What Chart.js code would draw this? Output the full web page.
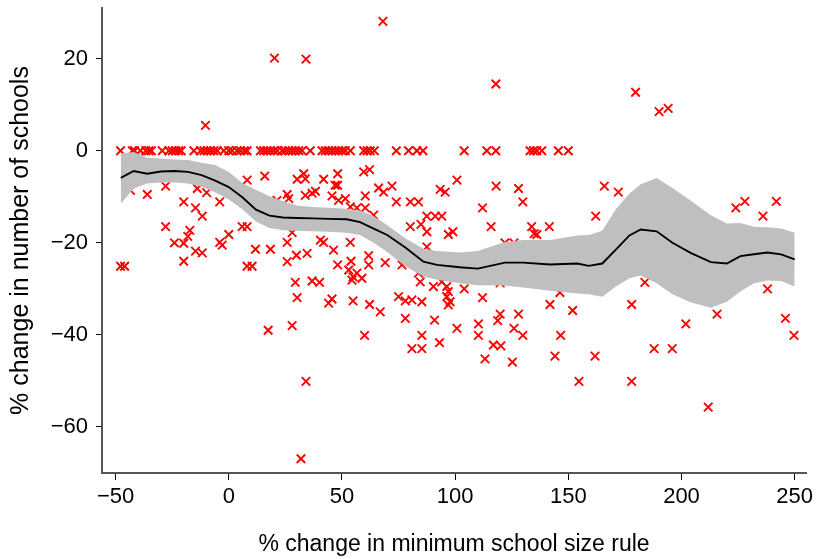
<!DOCTYPE html>
<html>
<head>
<meta charset="utf-8">
<script src="https://cdn.jsdelivr.net/npm/chart.js@4/dist/chart.umd.min.js"></script>
<style>html,body{margin:0;padding:0;background:#fff}</style>
</head>
<body>
<canvas id="chart" width="816" height="559"></canvas>
<script>
// schools that did not change (0 %)
const zeroX = [-47.8,-42.6,-41.6,-39,-36.7,-35.3,-34.2,-29.4,-26.5,-25,-23.5,-22.1,-21,-15.4,-12.5,-11,-9.5,-8.1,-6.6,-5.1,-2.2,0,1.5,3.7,5.2,6.9,8.1,
  14,15.4,16.9,18.4,19.9,21.4,23.6,25,26.5,28,29.4,30.9,32.4,36,41.2,42.7,44.1,45.6,47.1,48.5,50,51.5,53.7,59.6,61.1,62.5,64.3,74,79.4,83.1,85.8,
  104,114,118,133.1,134.6,136.1,138.3,145.6,150];

// every other observation: x = % change in rule, y = % change in schools
const ptX = [20.2,-10.3,34.1,68.1,118,179.7,190.1,194.1,
  8.1,15.9,21.3,-36,-27.9,-13.9,-9.8,-43.4,-19.9,-14.7,-11.7,-4,-27.9,-17.2,-18.1,-24,-19.9,-4,-2.9,0,5.9,8.1,-14.7,-11.7,11.8,18.4,-19.9,-47.8,-46,8.1,10.3,
  33.1,30.2,33.8,48.1,41.9,59.6,62.2,47,48.1,100.8,66.2,68.4,72.1,93.4,95.6,25.8,26.5,33.8,36.8,38.3,45.6,48.5,51.5,60.3,74,80.2,83.8,53.7,56.6,60.3,64,
  87.5,91.2,94.1,80.2,84.9,87.5,97,99,28,40.5,41.9,53.7,25.8,46.3,29.9,34.6,25.8,61.8,54,69.1,48.1,61.8,87.5,53,54.9,56.6,54.4,58.8,76.5,29.4,36.8,40.1,
  83.8,84.6,90.4,94.1,96.3,97,97.8,96.3,30.2,44.1,45.6,54.9,62.2,75,78,80.9,85.3,66.9,97,
  78,90.9,28,60,85.3,80.9,85.3,93.1,100.8,34.1,31.9,17.4,
  118.1,128,129.9,112.1,115.9,133.8,141.6,134.9,136.1,122,126,165.9,172.1,162.1,104,119.9,112.1,146.3,141.9,151.9,178,119.9,128,
  110.3,110.3,118.8,126,129.9,116.9,120.2,113.2,125.3,146.6,144.1,161.8,154.7,178,
  224,228,241.9,236,183.8,238,215.7,201.9,245.9,249.7,187.9,195.9,211.8];
const ptY = [20.1,5.5,19.9,28.1,14.5,12.7,8.5,9.2,
  -6.4,-5.5,-10.8,-9.5,-7.7,-8.2,-9.1,-8.6,-11.1,-12.4,-14.2,-11.1,-16.5,-17.3,-18.6,-20,-20.1,-19.9,-20.5,-18.2,-16.5,-16.5,-21.8,-22.2,-21.4,-21.4,-24,-25.1,-25.1,-25.1,-25.1,
  -5,-6.2,-6.1,-5,-6.2,-4.6,-4.1,-7.5,-7.5,-6.4,-8.1,-9,-7.7,-8.4,-9,-9.5,-10.4,-9.7,-9.2,-8.8,-9.8,-10.8,-10.4,-9.8,-11.1,-11.1,-11.1,-12.2,-12.4,-12.4,-14,
  -14.2,-14.2,-14.2,-16.5,-16,-17.6,-18.2,-17.6,-17.8,-19.4,-19.9,-19.9,-19.9,-21.6,-22.7,-22.3,-24.1,-22.8,-24,-24.3,-24.8,-24.8,-20.9,-25.9,-27.4,-26.6,-28.1,-27.7,-24.8,-28.6,-28.3,-28.6,
  -26.6,-28.5,-29.5,-28.5,-29.5,-30.6,-32.8,-31.7,-31.9,-33.1,-32.2,-32.6,-33.4,-31.7,-32.6,-32.4,-32.8,-35,-33.5,
  -36.4,-36.8,-38,-40.1,-40.1,-43,-43,-41.7,-38.6,-50.1,-66.9,-39,
  -7.7,-8.2,-11.1,-12.4,-16.5,-16.5,-16.5,-18,-18.2,-20,-20,-7.7,-9,-14.2,-30,-28.7,-31.9,-30.8,-33.4,-34.7,-33.4,-35.5,-35.5,
  -37.6,-40.1,-36.9,-38.6,-40.1,-42.2,-42.4,-45.2,-45.9,-40.1,-44.6,-44.6,-50.1,-50.1,
  -12.4,-11,-11,-14.2,-28.6,-30,-35.5,-37.6,-36.4,-40.1,-43,-43,-55.7];

// smoothed fit with its confidence band
const fitX  = [-47.7,-42,-36,-30,-24,-18,-12,-6,0,6,12,18,24,30,37,44,52,58,64,70,78,86,92,102,110,122,130,142,154,159,165,171,177,182,189,196,204,213,220,226,232,238,244,250];
const fitY  = [-5.9,-4.4,-5.0,-4.5,-4.4,-4.6,-5.3,-6.5,-7.9,-10.1,-12.8,-14.1,-14.5,-14.6,-14.7,-14.8,-14.9,-15.5,-16.9,-18.3,-21.0,-24.1,-24.8,-25.3,-25.6,-24.3,-24.3,-24.7,-24.5,-25.0,-24.5,-21.5,-18.4,-17.1,-17.5,-20.0,-22.2,-24.2,-24.5,-22.9,-22.5,-22.1,-22.5,-23.6];
const fitHi = [-0.6,-0.3,-1.5,-1.7,-1.9,-2.0,-2.6,-3.1,-4.6,-7.0,-8.5,-9.9,-11.0,-11.9,-12.2,-12.4,-12.6,-13.0,-14.2,-16.2,-19.0,-21.3,-21.8,-22.1,-21.8,-19.8,-19.4,-19.4,-18.4,-18.3,-17.4,-12.7,-9.3,-7.3,-5.9,-8.1,-10.8,-14.0,-15.8,-15.7,-16.5,-16.6,-16.9,-17.8];
const fitLo = [-11.5,-8.2,-7.1,-6.9,-6.9,-7.1,-7.8,-9.0,-10.6,-12.7,-15.4,-16.8,-17.3,-17.4,-17.5,-17.6,-17.8,-18.3,-20.0,-22.0,-25.1,-27.3,-28.0,-28.8,-29.2,-29.3,-29.7,-30.4,-31.0,-31.2,-31.7,-29.5,-27.7,-27.1,-28.8,-31.2,-32.9,-34.1,-32.8,-30.6,-28.8,-28.2,-28.3,-29.5];

const xTicks = [-50,0,50,100,150,200,250];
const yTicks = [-60,-40,-20,0,20];

const FONT = "'Liberation Sans', Arial, sans-serif";
const minus = v => String(v).replace('-', '\u2212');
const xy = (xs, ys) => xs.map((x,i)=>({x, y: ys[i]}));
// keep the plot box fixed: no extra room for edge labels
const noPad = s => { s.paddingTop = 0; s.paddingBottom = 0; s.paddingLeft = 0; s.paddingRight = 0; };

const points = zeroX.map(x=>({x, y:0})).concat(xy(ptX, ptY));

new Chart(document.getElementById('chart').getContext('2d'), {
  type: 'scatter',
  data: { datasets: [
    { type:'line', data: xy(fitX, fitY), borderColor:'#000', borderWidth:1.9, pointRadius:0, fill:false, tension:0, order:0 },
    { type:'line', data: xy(fitX, fitHi), borderWidth:0, borderColor:'rgba(0,0,0,0)', pointRadius:0, backgroundColor:'#bfbfbf', fill:'+1', order:1 },
    { type:'line', data: xy(fitX, fitLo), borderWidth:0, borderColor:'rgba(0,0,0,0)', pointRadius:0, fill:false, order:2 },
    { data: points, pointStyle:'crossRot', pointRadius:6, borderColor:'#ff0000', backgroundColor:'#ff0000', borderWidth:1.9, order:3 }
  ]},
  options: {
    responsive:false, animation:false,
    layout:{ padding:{ top:8, right:10, left:0, bottom:0 } },
    plugins:{ legend:{display:false}, tooltip:{enabled:false} },
    scales:{
      x:{ type:'linear', min:-56, max:255,
        afterBuildTicks: s => { s.ticks = xTicks.map(v=>({value:v})); },
        afterFit: s => { s.height = 86; noPad(s); },
        border:{ color:'#555', width:2 },
        grid:{ drawOnChartArea:false, drawTicks:true, tickLength:7, color:'#000', lineWidth:1 },
        ticks:{ color:'#000', font:{family:FONT, size:22}, padding:4, maxRotation:0, callback: minus },
        title:{ display:true, text:'% change in minimum school size rule', color:'#000', font:{family:FONT, size:23}, padding:{top:0, bottom:1} } },
      y:{ type:'linear', min:-70, max:31,
        afterBuildTicks: s => { s.ticks = yTicks.map(v=>({value:v})); },
        afterFit: s => { s.width = 102; noPad(s); },
        border:{ color:'#555', width:2 },
        grid:{ drawOnChartArea:false, drawTicks:true, tickLength:6, color:'#000', lineWidth:1 },
        ticks:{ color:'#000', font:{family:FONT, size:22}, padding:8, callback: minus },
        title:{ display:true, text:'% change in number of schools', color:'#000', font:{family:FONT, size:25}, padding:{top:6, bottom:0} } }
    }
  }
});
</script>
</body>
</html>
